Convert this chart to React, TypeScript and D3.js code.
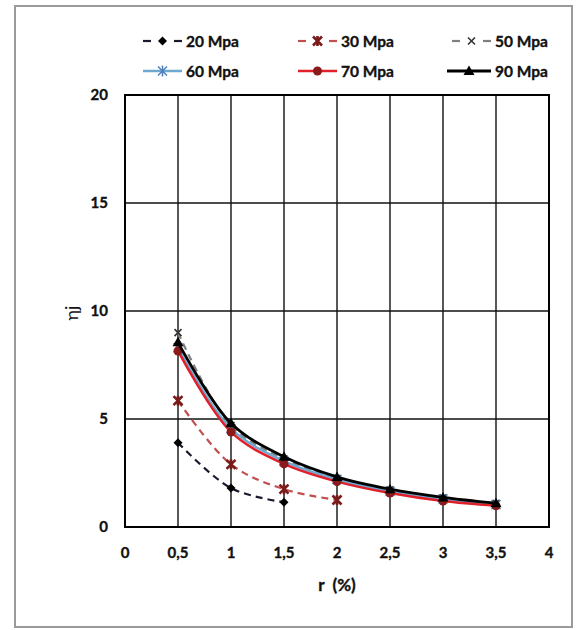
import React from "react";
import * as d3 from "d3";

const xValues = [0.5, 1, 1.5, 2, 2.5, 3, 3.5];
const s20 = [3.9, 1.8, 1.15];
const s30 = [5.85, 2.9, 1.75, 1.25];
const s50 = [9.0, 4.7, 3.15, 2.25, 1.72, 1.35, 1.1];
const s60 = [8.3, 4.55, 3.05, 2.2, 1.65, 1.3, 1.03];
const s70 = [8.15, 4.4, 2.92, 2.1, 1.57, 1.2, 0.98];
const s90 = [8.55, 4.8, 3.25, 2.32, 1.75, 1.37, 1.1];
const seriesNames = ["20 Mpa", "30 Mpa", "50 Mpa", "60 Mpa", "70 Mpa", "90 Mpa"];
const xTicks = [0, 0.5, 1, 1.5, 2, 2.5, 3, 3.5, 4];
const yTicks = [0, 5, 10, 15, 20];

type Style = { line: string; dash?: string; width: number; marker: string; mcolor: string };
const styles: Style[] = [
  { line: "#1a1a2e", dash: "7,5", width: 2.2, marker: "diamond", mcolor: "#000" },
  { line: "#c0504d", dash: "7,5", width: 2.2, marker: "xstar", mcolor: "#7a1b1b" },
  { line: "#7f7f7f", dash: "7,5", width: 2.2, marker: "x", mcolor: "#333" },
  { line: "#6fa8d0", width: 2.5, marker: "star", mcolor: "#4f81bd" },
  { line: "#e0202a", width: 2.5, marker: "circle", mcolor: "#8b1a1a" },
  { line: "#000", width: 2.8, marker: "triangle", mcolor: "#000" },
];
const allSeries = [s20, s30, s50, s60, s70, s90];

const FONT = "Lato, 'Open Sans', sans-serif";

function Marker({ type, x, y, color }: { type: string; x: number; y: number; color: string }) {
  const r = 4.5;
  switch (type) {
    case "diamond":
      return <path d={`M${x},${y - r}L${x + r},${y}L${x},${y + r}L${x - r},${y}Z`} fill={color} />;
    case "xstar":
      return (
        <path
          d={`M${x - r},${y - r}L${x + r},${y + r}M${x + r},${y - r}L${x - r},${y + r}M${x},${y - r - 0.5}L${x},${y + r + 0.5}`}
          stroke={color}
          strokeWidth={2.6}
        />
      );
    case "x":
      return <path d={`M${x - 3.5},${y - 3.5}L${x + 3.5},${y + 3.5}M${x + 3.5},${y - 3.5}L${x - 3.5},${y + 3.5}`} stroke={color} strokeWidth={1.6} />;
    case "star":
      return <path d={`M${x - r},${y - r}L${x + r},${y + r}M${x + r},${y - r}L${x - r},${y + r}M${x},${y - r - 1}L${x},${y + r + 1}`} stroke={color} strokeWidth={1.5} />;
    case "circle":
      return <circle cx={x} cy={y} r={4.5} fill={color} />;
    case "triangle":
      return <path d={`M${x},${y - 5.5}L${x + 5.5},${y + 4}L${x - 5.5},${y + 4}Z`} fill={color} />;
  }
  return null;
}

export default function App() {
  const x = d3.scaleLinear().domain([0, 4]).range([125, 549]);
  const y = d3.scaleLinear().domain([0, 20]).range([527, 95]);
  const line = d3
    .line<[number, number]>()
    .x((d) => x(d[0]))
    .y((d) => y(d[1]))
    .curve(d3.curveCatmullRom.alpha(0.5));
  const fmt = (v: number) => String(v).replace(".", ",");

  const legendCols = [143, 298, 452];
  const legendRows = [41, 71];
  const bold = { fontWeight: 700, fill: "#111", stroke: "#111", strokeWidth: 0.35 };

  return (
    <svg width={579} height={630} style={{ position: "absolute", left: 0, top: 0, background: "#fff" }} fontFamily={FONT}>
      <rect x={15} y={6} width={557} height={621} fill="#fff" stroke="#9a9a9a" strokeWidth={2} />
      {/* grid */}
      {xTicks.map((t) => (
        <line key={"gx" + t} x1={x(t)} x2={x(t)} y1={y(0)} y2={y(20)} stroke="#111" strokeWidth={1.4} />
      ))}
      {yTicks.map((t) => (
        <line key={"gy" + t} x1={x(0)} x2={x(4)} y1={y(t)} y2={y(t)} stroke="#111" strokeWidth={1.4} />
      ))}
      <rect x={x(0)} y={y(20)} width={x(4) - x(0)} height={y(0) - y(20)} fill="none" stroke="#000" strokeWidth={2} />
      {/* tick labels */}
      {xTicks.map((t) => (
        <text key={"tx" + t} x={x(t)} y={558} textAnchor="middle" fontSize={15} {...bold}>
          {fmt(t)}
        </text>
      ))}
      {yTicks.map((t) => (
        <text key={"ty" + t} x={108} y={y(t) + 5} textAnchor="end" fontSize={15} {...bold}>
          {t}
        </text>
      ))}
      <text x={x(2)} y={591} textAnchor="middle" fontSize={17} {...bold}>
        {"r\u00A0 (%)"}
      </text>
      <text transform={`translate(78,${y(10) + 2}) rotate(-90)`} textAnchor="middle" fontSize={18} fill="#111">
        ηj
      </text>
      {/* series */}
      {allSeries.map((vals, i) => {
        const pts = vals.map((v, j) => [xValues[j], v] as [number, number]);
        const st = styles[i];
        return (
          <g key={"s" + i}>
            <path d={line(pts) || ""} fill="none" stroke={st.line} strokeWidth={st.width} strokeDasharray={st.dash} />
            {pts.map((p, j) => (
              <Marker key={j} type={st.marker} x={x(p[0])} y={y(p[1])} color={st.mcolor} />
            ))}
          </g>
        );
      })}
      {/* legend */}
      {seriesNames.map((name, i) => {
        const base = legendCols[i % 3];
        const cy = legendRows[Math.floor(i / 3)];
        const st = styles[i];
        const x0 = base + (i === 5 ? -5 : 0);
        const x1 = base + 39;
        const mid = (x0 + x1) / 2;
        return (
          <g key={"l" + i}>
            {st.dash ? (
              <g stroke={st.line} strokeWidth={st.width}>
                <line x1={x0} x2={x0 + 8} y1={cy} y2={cy} />
                <line x1={x1 - 8} x2={x1} y1={cy} y2={cy} />
              </g>
            ) : (
              <line x1={x0} x2={x1} y1={cy} y2={cy} stroke={st.line} strokeWidth={st.width} />
            )}
            <Marker type={st.marker} x={mid} y={cy} color={st.mcolor} />
            <text x={base + 43} y={cy + 5.5} fontSize={15.5} {...bold}>
              {name}
            </text>
          </g>
        );
      })}
    </svg>
  );
}
